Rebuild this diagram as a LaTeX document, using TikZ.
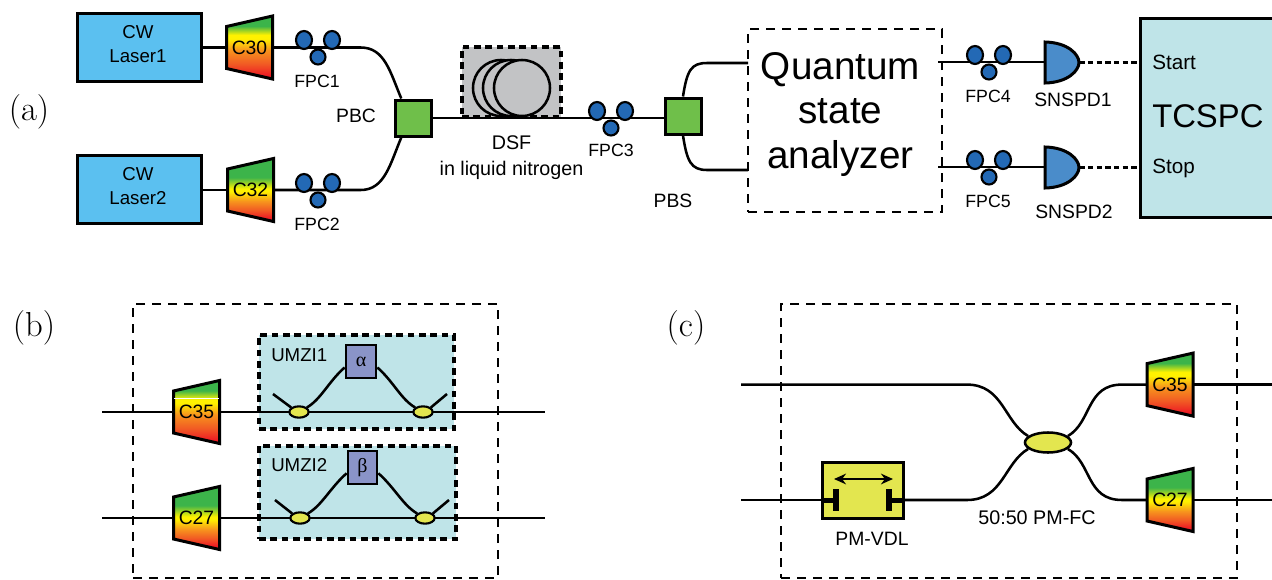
\documentclass[tikz,border=0pt]{standalone}
\usepackage{fontspec}
\usepackage{tikz}
\usetikzlibrary{calc,shapes.geometric,arrows.meta}
\newfontfamily\arial{Liberation Sans}
\newfontfamily\grk{Liberation Serif}
\definecolor{laserblue}{HTML}{5BC0F0}
\definecolor{pbgreen}{HTML}{6FBF4A}
\definecolor{fpcblue}{HTML}{2369B5}
\definecolor{detblue}{HTML}{4A8CCA}
\definecolor{lightcyan}{HTML}{BFE4E8}
\definecolor{cplyellow}{HTML}{E3E64F}
\definecolor{phasepurple}{HTML}{8A94C8}
\definecolor{dsfgray}{HTML}{C2C3C5}
\definecolor{fgreen}{HTML}{3CB44A}
\definecolor{fyellow}{HTML}{FFF200}
\definecolor{forange}{HTML}{F7941D}
\definecolor{fdeep}{HTML}{F15A24}
\definecolor{fred}{HTML}{ED1C24}
\pgfdeclareverticalshading{filtergrad}{100bp}{color(0bp)=(fred); color(28bp)=(fred); color(37bp)=(fdeep); color(48bp)=(forange); color(57bp)=(fyellow); color(60bp)=(fyellow); color(67bp)=(fgreen); color(100bp)=(fgreen)}
\pgfdeclareverticalshading{filtergradb}{100bp}{color(0bp)=(fred); color(28bp)=(fred); color(34bp)=(fdeep); color(41bp)=(forange); color(49bp)=(fyellow); color(51bp)=(fyellow); color(60bp)=(fgreen); color(100bp)=(fgreen)}
\tikzstyle{box}=[draw,line width=2.25pt,inner sep=0pt,align=center]
\tikzstyle{dashbox}=[draw,line width=2.2pt,dash pattern=on 7pt off 5pt,inner sep=0pt]
\tikzstyle{thickdash}=[draw,line width=2.6pt,dash pattern=on 5pt off 3.5pt,inner sep=0pt]
\tikzstyle{filterfill}=[draw,line width=2.25pt]
\tikzstyle{filtertext}=[inner sep=0pt,minimum width=34.5pt,minimum height=31pt,font=\arial\fontsize{14.5}{16}\selectfont]
\tikzstyle{fpcbig}=[ellipse,draw,line width=1.6pt,fill=fpcblue,minimum width=12pt,minimum height=13.5pt,inner sep=0pt]
\tikzstyle{fpcsmall}=[circle,draw,line width=1.6pt,fill=fpcblue,minimum size=11.25pt,inner sep=0pt]
\tikzstyle{detfill}=[draw,line width=2.25pt,fill=detblue]
\tikzstyle{dettext}=[inner sep=0pt,minimum width=25.5pt,minimum height=30.75pt]
\tikzstyle{coupler}=[ellipse,draw,line width=1.6pt,fill=cplyellow,minimum width=14.5pt,minimum height=8.5pt,inner sep=0pt]
\tikzstyle{fiber}=[draw,line width=1.9pt]
\tikzstyle{lbl}=[inner sep=0pt,font=\arial\fontsize{13.3}{15}\selectfont]
\tikzstyle{lblbig}=[inner sep=0pt,font=\arial\fontsize{14.5}{16}\selectfont]
\tikzstyle{panel}=[inner sep=0pt,font=\fontsize{26}{30}\selectfont]
\newcommand{\fpc}[3]{%
    \node[fpcbig] (#1a) at (#2-14,#3-7) {};
    \node[fpcbig] (#1b) at (#2+14,#3-7) {};
    \node[fpcsmall] (#1c) at (#2,#3+10) {};
}
\newcommand{\filt}[5][filtergrad]{%
    \path[filterfill,shading=#1] (#3-23,#4-21) -- (#3+23,#4-31.5) -- (#3+23,#4+31.5) -- (#3-23,#4+21) -- cycle;
    \node[filtertext] (#2) at (#3,#4) {#5};
}
\newcommand{\snspd}[3]{%
    \path[detfill] (#2-17,#3-20.5) .. controls (#2+6,#3-20) and (#2+17,#3-8) .. (#2+17,#3) .. controls (#2+17,#3+8) and (#2+6,#3+20) .. (#2-17,#3+20.5) -- cycle;
    \node[dettext] (#1) at (#2,#3) {};
}

\begin{document}
\begin{tikzpicture}[x=0.75pt,y=-0.75pt]
    \useasboundingbox (0,0) rectangle (1272,579);
    % panel a
    \node[panel] (pa) at (29,112) {(a)};
    \node[box,fill=laserblue,minimum width=93pt,minimum height=51pt] (laser1) at (139,47) {};
    \node[box,fill=laserblue,minimum width=93pt,minimum height=51pt] (laser2) at (139,189) {};
    \node[lbl,align=center,font=\arial\fontsize{14}{18}\selectfont] (laser1l) at (138,44.5) {CW\\Laser1};
    \node[lbl,align=center,font=\arial\fontsize{14}{18}\selectfont] (laser2l) at (138,186.5) {CW\\Laser2};
    \filt{c30}{249.5}{47.5}{C30}
    \filt[filtergradb]{c32}{250.5}{190}{C32}
    \node[box,fill=pbgreen,minimum size=27pt] (pbc) at (413,118) {};
    \node[box,fill=pbgreen,minimum size=27pt] (pbs) at (683,116) {};
    \node[thickdash,fill=dsfgray,minimum width=74.25pt,minimum height=52.5pt] (dsf) at (511.5,82) {};
    \node[circle,draw,line width=1.9pt,fill=dsfgray,minimum size=42pt,inner sep=0pt] (coil1) at (501,88) {};
    \node[circle,draw,line width=1.9pt,fill=dsfgray,minimum size=42pt,inner sep=0pt] (coil2) at (511,88) {};
    \node[circle,draw,line width=1.9pt,fill=dsfgray,minimum size=42pt,inner sep=0pt] (coil3) at (522,88) {};
    \node[dashbox,minimum width=145.5pt,minimum height=137.25pt] (qsa) at (845,120.5) {};
    \node[inner sep=0pt,align=center,font=\arial\fontsize{29}{33.5}\selectfont] (qsatext) at (840.5,114.5) {Quantum\\state\\analyzer};
    \node[box,fill=lightcyan,minimum width=102pt,minimum height=149.25pt] (tcspc) at (1208,117.5) {};
    \snspd{det1}{1062}{62.5}
    \snspd{det2}{1062}{167.5}
    \coordinate (qin1) at (748,63);
    \coordinate (qin2) at (748,170);
    \coordinate (qout1) at (938,62);
    \coordinate (qout2) at (938,167);
    \path[fiber] (laser1.east |- c30.west) -- (c30.west);
    \path[fiber] (laser2.east |- c32.west) -- (c32.west);
    \path[fiber] (c30.east) -- ++(88,0) .. controls +(24,0) and +(-11,-26) .. (pbc.121);
    \path[fiber] (c32.east) -- ++(87,0) .. controls +(24,0) and +(-11,26) .. (pbc.239);
    \path[fiber] (pbc.east) -- (pbs.west |- pbc.east);
    \path[fiber] (pbs.north) .. controls +(4,-26) and +(-16,0) .. ($(qin1)+(-41,0)$) -- (qin1);
    \path[fiber] (pbs.south) .. controls +(4,26) and +(-16,0) .. ($(qin2)+(-41,0)$) -- (qin2);
    \path[fiber] (qout1) -- (det1.west |- qout1);
    \path[fiber] (qout2) -- (det2.west |- qout2);
    \path[fiber,dash pattern=on 4pt off 2.5pt] (det1.east) -- (tcspc.west |- det1.east);
    \path[fiber,dash pattern=on 4pt off 2.5pt] (det2.east) -- (tcspc.west |- det2.east);
    \fpc{fpc1}{318}{47}
    \fpc{fpc2}{318}{190}
    \fpc{fpc3}{611}{118}
    \fpc{fpc4}{989}{62}
    \fpc{fpc5}{989}{167}
    \node[lbl] (fpc1l) at (317,81) {FPC1};
    \node[lbl] (fpc2l) at (317,224) {FPC2};
    \node[lblbig] (pbcl) at (356,116) {PBC};
    \node[lblbig,align=center,font=\arial\fontsize{14.8}{19}\selectfont] (dsfl) at (511.5,157.5) {DSF\\in liquid nitrogen};
    \node[lbl] (fpc3l) at (611,150) {FPC3};
    \node[lblbig] (pbsl) at (673,201) {PBS};
    \node[lbl] (fpc4l) at (988,96) {FPC4};
    \node[lbl] (fpc5l) at (988,201) {FPC5};
    \node[lblbig] (det1l) at (1073,100) {SNSPD1};
    \node[lblbig] (det2l) at (1074,212) {SNSPD2};
    \node[lbl,anchor=west,font=\arial\fontsize{15.5}{18}\selectfont] (startl) at (1152,62) {Start};
    \node[lbl,anchor=west,font=\arial\fontsize{15.5}{18}\selectfont] (stopl) at (1152,168) {Stop};
    \node[inner sep=0pt,anchor=west,font=\arial\fontsize{24.6}{28}\selectfont] (tcspcl) at (1152,116) {TCSPC};
    % panel b
    \node[panel] (pb) at (34,328) {(b)};
    \node[dashbox,minimum width=273.75pt,minimum height=205.5pt] (outerb) at (315.5,441) {};
    \node[thickdash,fill=lightcyan,minimum width=146.25pt,minimum height=70.5pt] (umzi1) at (356.5,382) {};
    \node[thickdash,fill=lightcyan,minimum width=147.75pt,minimum height=69.75pt] (umzi2) at (357.5,492.5) {};
    \coordinate (in1) at (102,412);
    \coordinate (out1) at (545,412);
    \coordinate (in2) at (102,518);
    \coordinate (out2) at (545,518);
    \filt{c35b}{196.5}{412}{C35}
    \filt[filtergradb]{c27b}{196.5}{518}{C27}
    \node[box,line width=2pt,fill=phasepurple,minimum width=22.5pt,minimum height=24.75pt,font=\grk\fontsize{15}{17}\selectfont] (alpha) at (361,361.5) {α};
    \node[box,line width=2pt,fill=phasepurple,minimum width=21.75pt,minimum height=24.75pt,font=\grk\fontsize{15}{17}\selectfont] (beta) at (362.5,467.5) {β};
    \path[fiber] (in1) -- (c35b);
    \path[fiber] (c35b) -- (out1);
    \path[fiber] (in2) -- (c27b);
    \path[fiber] (c27b) -- (out2);
    \draw[white,line width=0.7pt] ($(c35b.west)+(1,-14)$) -- ($(c35b.east)+(-1,-14)$);
    \node[coupler] (k1) at (299,412) {};
    \node[coupler] (k2) at (423,412) {};
    \node[coupler] (k3) at (300,518) {};
    \node[coupler] (k4) at (425,518) {};
    \coordinate (e1) at (273,394);
    \coordinate (e2) at (447,394);
    \coordinate (e3) at (275,500);
    \coordinate (e4) at (449,500);
    \path[fiber] (e1) -- (k1.150);
    \path[fiber] (k1.30) .. controls +(14,-8) and +(-16,14) .. (alpha.200);
    \path[fiber] (alpha.-20) .. controls +(16,14) and +(-14,-8) .. (k2.150);
    \path[fiber] (k2.30) -- (e2);
    \path[fiber] (e3) -- (k3.150);
    \path[fiber] (k3.30) .. controls +(14,-8) and +(-16,14) .. (beta.200);
    \path[fiber] (beta.-20) .. controls +(16,14) and +(-14,-8) .. (k4.150);
    \path[fiber] (k4.30) -- (e4);
    \node[lbl,anchor=west,font=\arial\fontsize{14}{16}\selectfont] (umzi1l) at (271,355) {UMZI1};
    \node[lbl,anchor=west,font=\arial\fontsize{14}{16}\selectfont] (umzi2l) at (271,465) {UMZI2};
    % panel c
    \node[panel] (pc) at (686,328) {(c)};
    \node[dashbox,minimum width=342pt,minimum height=205.5pt] (outerc) at (1009,441) {};
    \coordinate (cin1) at (741,384.6);
    \coordinate (cin2) at (741,500);
    \coordinate (cout1) at (1272,384.6);
    \coordinate (cout2) at (1272,500);
    \node[box,fill=cplyellow,minimum width=60.75pt,minimum height=42pt] (vdl) at (862.5,490) {};
    \node[coupler,line width=1.9pt,minimum width=34.5pt,minimum height=15pt] (fc) at (1048,442.5) {};
    \filt{c35c}{1170}{384.6}{C35}
    \filt[filtergradb]{c27c}{1170}{500}{C27}
    \path[fiber] (cin1) -- ($(cin1)+(226,0)$) .. controls +(36,0) and +(-24,-14) .. (fc.162);
    \path[fiber] (cin2) -- (vdl.west |- cin2);
    \path[fiber] (vdl.east |- cin2) -- ($(cin2)+(226,0)$) .. controls +(36,0) and +(-24,14) .. (fc.198);
    \path[fiber] (fc.18) .. controls +(24,-14) and +(-36,0) .. ($(cout1)+(-150,0)$) -- (c35c);
    \path[fiber] (fc.-18) .. controls +(24,14) and +(-36,0) .. ($(cout2)+(-150,0)$) -- (c27c);
    \path[fiber] (c35c) -- (cout1);
    \path[fiber] (c27c) -- (cout2);
    \coordinate (barl) at (836,500);
    \coordinate (barr) at (889,500);
    \draw[line width=3.75pt] (vdl.west |- barl) -- (barl);
    \draw[line width=3.75pt] (barr) -- (vdl.east |- barr);
    \draw[line width=4.5pt] ($(barl)+(0,-11)$) -- ($(barl)+(0,11)$);
    \draw[line width=4.5pt] ($(barr)+(0,-11)$) -- ($(barr)+(0,11)$);
    \draw[{Stealth[length=9pt,width=8pt]}-{Stealth[length=9pt,width=8pt]},line width=1.5pt] ($(barl)+(-2,-21)$) -- ($(barr)+(4,-21)$);
    \node[lblbig,font=\arial\fontsize{14.8}{16}\selectfont] (fcl) at (1037,518) {50:50 PM-FC};
    \node[lblbig] (vdll) at (872,539) {PM-VDL};
\end{tikzpicture}
\end{document}
